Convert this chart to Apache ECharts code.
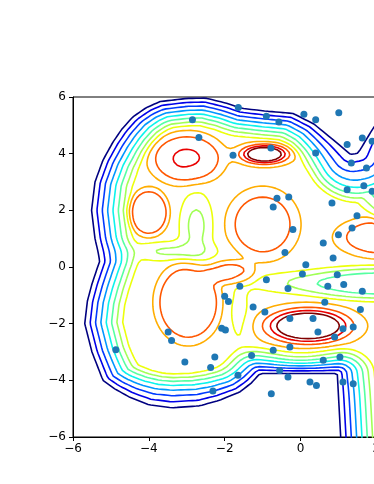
<!DOCTYPE html>
<html>
<head>
<meta charset="utf-8" />
<title>contour</title>
<script src="https://cdn.jsdelivr.net/npm/echarts@6/dist/echarts.min.js"></script>
<style>
	html,body{ margin:0; padding:0; background:#fff;}
	#chart{ width:374px; height:484px;}
</style>
</head>
<body>
<div id="chart"></div>
<script>
// scatter points
var ptX = [-2.85,-2.68,-1.64,-0.90,-0.57,0.09,0.40,1.01,1.23,1.63,1.89,0.40,-0.78,-1.78,1.34,1.74,1.23,1.67,1.89,0.83,
	-0.62,-0.31,-0.72,-0.20,-0.41,0.14,0.05,1.49,1.36,0.60,1.00,0.86,0.97,0.72,1.14,1.63,-0.90,-0.33,
	-1.60,-2.00,-1.90,-1.25,-0.94,-2.08,-1.98,-3.49,-3.40,-4.87,-3.05,-2.26,-2.37,-2.31,-1.65,-1.29,-0.55,-0.33,-0.77,0.25,0.42,
	-0.28,-0.72,-0.28,0.33,0.46,0.90,1.12,1.39,0.64,1.58,1.04,0.60,1.12,1.39];
var ptY = [5.20,4.57,5.63,5.32,5.12,5.39,5.20,5.44,4.32,4.55,4.44,4.02,4.20,3.94,3.67,3.49,2.73,2.87,2.67,2.26,
	2.43,2.47,2.12,1.32,0.51,0.08,-0.25,1.81,1.38,0.85,1.14,0.32,-0.27,-0.68,-0.62,-0.86,-0.45,-0.76,
	-0.68,-1.03,-1.22,-1.41,-1.59,-2.16,-2.22,-2.29,-2.59,-2.92,-3.35,-3.18,-3.55,-4.38,-3.82,-3.12,-3.65,-3.88,-4.47,-4.06,-4.18,
	-2.82,-2.94,-1.82,-1.82,-2.29,-2.47,-2.18,-2.12,-1.24,-1.50,-3.18,-3.29,-4.06,-4.12];

// outline of the outermost contour
var edgeX = [-5.51,-5.42,-5.21,-4.95,-4.72,-4.42,-4.06,-3.70,-3.00,-2.50,-1.95,-1.55,-0.90,-0.20,0.35,0.90,1.32,1.52,1.70,1.89,2.20,3.20,
	3.20,1.10,1.06,0.97,-1.07,-1.30,-1.60,-2.13,-2.66,-3.40,-4.00,-4.50,-4.90,-5.21,-5.50,-5.69,-5.62,-5.50,-5.30,-5.42];
var edgeY = [2.00,3.00,3.77,4.40,4.85,5.30,5.63,5.84,5.95,5.96,5.78,5.60,5.50,5.42,5.05,4.45,3.97,4.02,4.42,4.84,5.45,5.70,
	-7.20,-7.20,-6.00,-3.76,-3.76,-4.10,-4.41,-4.70,-4.90,-4.97,-4.86,-4.60,-4.30,-4.00,-3.00,-2.00,-1.20,-0.60,0.20,1.00];

// bumps: peaks and valleys inside
var bumpX   = [-3.00,-4.00,-0.95,-1.00,-2.96,-1.85, 0.20, 2.15, 2.10,-0.60,-1.60,-2.75,-3.45];
var bumpY   = [ 3.82, 1.92, 3.98, 1.50,-1.25,-0.20,-2.08, 1.05,-0.58,-0.55,-1.75, 1.45, 0.55];
var bumpSX  = [ 0.68, 0.38, 0.39, 0.65, 0.62, 0.45, 0.68, 0.84, 1.60, 0.70, 0.22, 0.27, 0.75];
var bumpSY  = [ 0.64, 0.61, 0.21, 0.87, 1.02, 0.30, 0.37, 0.50, 0.40, 0.28, 0.80, 0.75, 0.22];
var bumpAmp = [ 2.55, 2.20, 6.70, 2.20, 2.20, 1.90, 7.30, 2.20,-3.00,-0.80,-0.90,-2.00,-1.70];
var bumpPow = [ 2, 3, 1, 2, 3, 2, 1, 2, 2, 1, 1, 1, 1];

// spacing of the outer band of lines
var band0 = 0.14;
var bandX   = [ 1.60,-3.30, 0.00];
var bandY   = [ 3.20,-4.60,-3.50];
var bandSX  = [ 0.80, 1.00, 0.80];
var bandSY  = [ 0.90, 0.60, 0.50];
var bandAmp = [ 0.17, 0.07,-0.05];
var plateau = 8.5;

var levels = [1,2,3,4,5,6,7,8,9,10,11,12];
var levelColors = ['#000080','#0000e9','#003aff','#0097ff','#0bf3ec','#56ffa1','#a1ff56','#ecff0b','#ffad00','#ff5700','#e90000','#800000'];

function segDist(px,py,ax,ay,bx,by){
	var dx=bx-ax, dy=by-ay;
	var t=((px-ax)*dx+(py-ay)*dy)/(dx*dx+dy*dy);
	t=Math.max(0,Math.min(1,t));
	var ex=ax+t*dx-px, ey=ay+t*dy-py;
	return Math.sqrt(ex*ex+ey*ey);
}
function field(x,y){
	var n=edgeX.length, d=1e9, inside=false;
	for(var i=0,j=n-1;i<n;j=i++){
		var s=segDist(x,y,edgeX[j],edgeY[j],edgeX[i],edgeY[i]);
		if(s<d) d=s;
		if(((edgeY[i]>y)!=(edgeY[j]>y)) && (x<(edgeX[j]-edgeX[i])*(y-edgeY[i])/(edgeY[j]-edgeY[i])+edgeX[i])) inside=!inside;
	}
	if(!inside) d=-d;
	var w=band0;
	for(var k=0;k<bandX.length;k++){
		var u=(x-bandX[k])/bandSX[k], v=(y-bandY[k])/bandSY[k];
		w+=bandAmp[k]*Math.exp(-0.5*(u*u+v*v));
	}
	var r=1+d/w;
	var z=3*(plateau-r);
	var val=plateau-(z>30?z:Math.log(1+Math.exp(z)))/3;
	for(var b=0;b<bumpX.length;b++){
		var ux=(x-bumpX[b])/bumpSX[b], uy=(y-bumpY[b])/bumpSY[b];
		var q=0.5*(ux*ux+uy*uy);
		val+=bumpAmp[b]*Math.exp(-Math.pow(q,bumpPow[b]));
	}
	return val;
}

// sample the field on a grid
var h=0.05, gx0=-6.6, gy0=-6.9;
var nx=Math.round((3.0-gx0)/h)+1, ny=Math.round((6.6-gy0)/h)+1;
var V=[];
for(var j=0;j<ny;j++){
	var row=new Float64Array(nx);
	for(var i=0;i<nx;i++) row[i]=field(gx0+i*h,gy0+j*h);
	V.push(row);
}

// marching squares, segments joined into polylines
function contour(L){
	var pts={}, nb={};
	function add(k1,p1,k2,p2){
		pts[k1]=p1; pts[k2]=p2;
		(nb[k1]=nb[k1]||[]).push(k2);
		(nb[k2]=nb[k2]||[]).push(k1);
	}
	for(var j=0;j<ny-1;j++){
		for(var i=0;i<nx-1;i++){
			var a=V[j][i], b=V[j][i+1], c=V[j+1][i+1], d=V[j+1][i];
			var idx=(a>L?1:0)|(b>L?2:0)|(c>L?4:0)|(d>L?8:0);
			if(idx==0||idx==15) continue;
			var x0=gx0+i*h, y0=gy0+j*h;
			var kB=(j*nx+i)*2, kT=((j+1)*nx+i)*2, kL=(j*nx+i)*2+1, kR=(j*nx+i+1)*2+1;
			var pB=[x0+(L-a)/(b-a)*h,y0], pT=[x0+(L-d)/(c-d)*h,y0+h];
			var pL=[x0,y0+(L-a)/(d-a)*h], pR=[x0+h,y0+(L-b)/(c-b)*h];
			var mid=(a+b+c+d)/4;
			switch(idx){
				case 1: case 14: add(kL,pL,kB,pB); break;
				case 2: case 13: add(kB,pB,kR,pR); break;
				case 3: case 12: add(kL,pL,kR,pR); break;
				case 4: case 11: add(kR,pR,kT,pT); break;
				case 6: case 9: add(kB,pB,kT,pT); break;
				case 7: case 8: add(kL,pL,kT,pT); break;
				case 5:
					if(mid>L){ add(kB,pB,kR,pR); add(kL,pL,kT,pT); }
					else{ add(kL,pL,kB,pB); add(kR,pR,kT,pT); }
					break;
				case 10:
					if(mid>L){ add(kL,pL,kB,pB); add(kR,pR,kT,pT); }
					else{ add(kB,pB,kR,pR); add(kL,pL,kT,pT); }
					break;
			}
		}
	}
	var used={}, out=[];
	function walk(start){
		var line=[pts[start]]; used[start]=1;
		var cur=start;
		while(true){
			var list=nb[cur], next=null;
			for(var t=0;t<list.length;t++){ if(!used[list[t]]){ next=list[t]; break; } }
			if(next===null){
				if(list.indexOf(start)>=0 && line.length>2) line.push(pts[start]);
				break;
			}
			used[next]=1; line.push(pts[next]); cur=next;
		}
		out.push(line);
	}
	var keys=Object.keys(nb);
	keys.forEach(function(k){ if(nb[k].length==1 && !used[k]) walk(+k); });
	keys.forEach(function(k){ if(!used[k]) walk(+k); });
	return out;
}

var series=[];
for(var k=0;k<levels.length;k++){
	var data=[];
	contour(levels[k]).forEach(function(pl){
		pl.forEach(function(p){ data.push(p); });
		data.push(['-','-']);
	});
	series.push({
		type:'line', data:data, showSymbol:false, symbol:'none', connectNulls:false,
		lineStyle:{ color:levelColors[k], width:1.6 }, silent:true, animation:false, z:2
	});
}
series.push({
	type:'scatter',
	data:ptX.map(function(x,i){ return [x,ptY[i]]; }),
	symbolSize:7,
	itemStyle:{ color:'#1f77b4', opacity:1 },
	animation:false, z:5
});

function fmt(v){ return v<0 ? '\u2212'+(-v) : ''+v; }
var axisFont={ color:'#000', fontFamily:'DejaVu Sans', fontSize:12 };

var chart=echarts.init(document.getElementById('chart'));
chart.setOption({
	animation:false,
	grid:{ left:73, top:97, width:455, height:340, containLabel:false, outerBoundsMode:'none', show:true, borderColor:'#000', borderWidth:1 },
	xAxis:{
		type:'value', min:-6, max:6, interval:2,
		axisLine:{ show:true, onZero:false, lineStyle:{ color:'#000', width:1 } },
		axisTick:{ show:true, inside:false, length:4, lineStyle:{ color:'#000' } },
		axisLabel:Object.assign({ margin:6, formatter:fmt }, axisFont),
		splitLine:{ show:false }
	},
	yAxis:{
		type:'value', min:-6, max:6, interval:2,
		axisLine:{ show:true, onZero:false, lineStyle:{ color:'#000', width:1 } },
		axisTick:{ show:true, inside:false, length:4, lineStyle:{ color:'#000' } },
		axisLabel:Object.assign({ margin:7, formatter:fmt }, axisFont),
		splitLine:{ show:false }
	},
	series:series
});
</script>
</body>
</html>
